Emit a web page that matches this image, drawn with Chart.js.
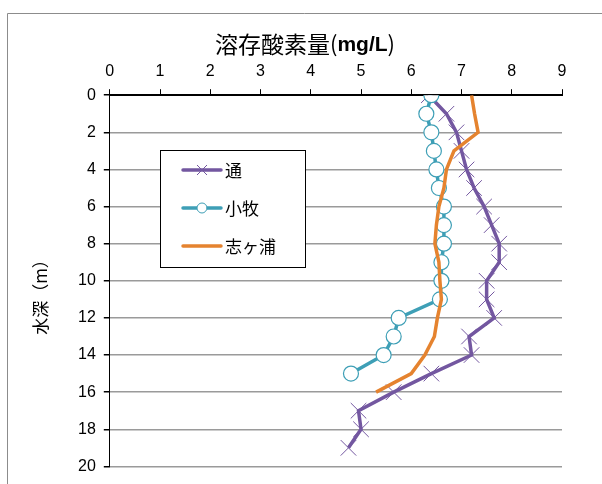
<!DOCTYPE html>
<html>
<head>
<meta charset="utf-8">
<script src="https://cdn.jsdelivr.net/npm/chart.js@4"></script>
<style>
  html, body { margin: 0; padding: 0; background: #fff; }
  #wrap { width: 602px; height: 484px; }
</style>
</head>
<body>
<div id="wrap"><canvas id="chartDo" width="602" height="484"></canvas></div>
<script>
// depth (m) for each station
const depthTori = [0, 1, 2, 3, 4, 5, 6, 7, 8, 9, 10, 11, 12, 13, 14, 15, 16, 17, 18, 19];
const depthKomaki = [0, 1, 2, 3, 4, 5, 6, 7, 8, 9, 10, 11, 12, 13, 14, 15];
const depthShigaura = [0, 1, 2, 3, 4, 5, 6, 7, 8, 9, 10, 11, 12, 13, 14, 15, 16];

// dissolved oxygen (mg/L)
const doTori = [6.35, 6.7, 6.9, 7.0, 7.1, 7.25, 7.45, 7.6, 7.75, 7.75, 7.5, 7.5, 7.65, 7.15, 7.2, 6.4, 5.65, 4.95, 5.0, 4.75];
const doKomaki = [6.4, 6.3, 6.4, 6.45, 6.5, 6.55, 6.65, 6.65, 6.65, 6.6, 6.6, 6.57, 5.75, 5.65, 5.45, 4.8];
const doShigaura = [7.2, 7.26, 7.33, 6.85, 6.7, 6.65, 6.55, 6.5, 6.47, 6.55, 6.57, 6.6, 6.52, 6.46, 6.27, 6.0, 5.3];

const seriesNames = ['通', '小牧', '志ヶ浦'];
const xTicks = [0, 1, 2, 3, 4, 5, 6, 7, 8, 9];
const yTicks = [0, 2, 4, 6, 8, 10, 12, 14, 16, 18, 20];

const PURPLE = '#7357A0';
const TEAL = '#3E9FB6';
const ORANGE = '#E5832F';
const CJK = '"Noto Sans CJK JP", "Noto Sans", sans-serif';
const LATIN = '"Liberation Sans", "DejaVu Sans", sans-serif';

function toPoints(xs, ys) {
  return xs.map((v, i) => ({ x: v, y: ys[i] }));
}

// outer frame of the original sheet (top and left edges only)
const framePlugin = {
  id: 'frame',
  beforeDraw(chart) {
    const ctx = chart.ctx;
    ctx.save();
    ctx.strokeStyle = '#8c8c8c';
    ctx.lineWidth = 1;
    ctx.beginPath();
    ctx.moveTo(7.5, 484);
    ctx.lineTo(7.5, 13.5);
    ctx.lineTo(602, 13.5);
    ctx.stroke();
    ctx.restore();
  },
};

// axis titles: mixed CJK + bold latin on top, rotated one at left
const titlePlugin = {
  id: 'axisTitles',
  afterDraw(chart) {
    const ctx = chart.ctx;
    ctx.save();
    ctx.fillStyle = '#000';
    ctx.textBaseline = 'middle';
    ctx.textAlign = 'left';
    const parts = [
      ['溶存酸素量', '23px ' + CJK, 0],
      ['(', '22px ' + CJK, 0],
      ['mg/L', 'bold 21px ' + LATIN, 1],
      [')', '22px ' + CJK, 0],
    ];
    let total = 0;
    parts.forEach(p => { ctx.font = p[1]; total += ctx.measureText(p[0]).width; });
    let x = 305 - total / 2;
    parts.forEach(p => {
      ctx.font = p[1];
      ctx.fillText(p[0], x, 44 + p[2]);
      x += ctx.measureText(p[0]).width;
    });

    ctx.translate(41, 293);
    ctx.rotate(-Math.PI / 2);
    ctx.textAlign = 'center';
    ctx.font = '17px ' + CJK;
    ctx.fillText('水深（m）', 0, 0);
    ctx.restore();
  },
};

// legend box sitting inside the plot area
const legendPlugin = {
  id: 'boxLegend',
  afterDraw(chart) {
    const ctx = chart.ctx;
    const bx = 160, by = 150, bw = 145, bh = 117;
    ctx.save();
    ctx.fillStyle = '#fff';
    ctx.fillRect(bx, by, bw, bh);
    ctx.strokeStyle = '#000';
    ctx.lineWidth = 1;
    ctx.strokeRect(bx + 0.5, by + 0.5, bw, bh);
    const rows = [170, 208, 246];
    const colors = [PURPLE, TEAL, ORANGE];
    rows.forEach((yy, i) => {
      ctx.strokeStyle = colors[i];
      ctx.lineWidth = 3.5;
      ctx.lineCap = 'round';
      ctx.beginPath();
      ctx.moveTo(183, yy);
      ctx.lineTo(221, yy);
      ctx.stroke();
      if (i === 0) {
        ctx.lineWidth = 1;
        ctx.lineCap = 'butt';
        ctx.beginPath();
        ctx.moveTo(197, yy - 5); ctx.lineTo(207, yy + 5);
        ctx.moveTo(207, yy - 5); ctx.lineTo(197, yy + 5);
        ctx.stroke();
      } else if (i === 1) {
        ctx.fillStyle = '#fff';
        ctx.lineWidth = 1;
        ctx.beginPath();
        ctx.arc(202, yy, 5, 0, Math.PI * 2);
        ctx.fill();
        ctx.stroke();
      }
      ctx.fillStyle = '#000';
      ctx.font = '17px ' + CJK;
      ctx.textBaseline = 'middle';
      ctx.textAlign = 'left';
      ctx.fillText(seriesNames[i], 225, yy + 1);
    });
    ctx.restore();
  },
};

const ctx = document.getElementById('chartDo').getContext('2d');
new Chart(ctx, {
  type: 'scatter',
  data: {
    datasets: [
      {
        label: seriesNames[0],
        data: toPoints(doTori, depthTori),
        showLine: true,
        borderColor: PURPLE,
        borderWidth: 3.5,
        pointStyle: 'cross',
        rotation: 45,
        pointRadius: 11,
        pointBorderWidth: 1,
        pointBorderColor: PURPLE,
        pointBackgroundColor: PURPLE,
        order: 3,
      },
      {
        label: seriesNames[1],
        data: toPoints(doKomaki, depthKomaki),
        showLine: true,
        borderColor: TEAL,
        borderWidth: 3.5,
        pointStyle: 'circle',
        pointRadius: 7.5,
        pointBorderWidth: 1.2,
        pointBorderColor: TEAL,
        pointBackgroundColor: '#fff',
        order: 2,
      },
      {
        label: seriesNames[2],
        data: toPoints(doShigaura, depthShigaura),
        showLine: true,
        borderColor: ORANGE,
        borderWidth: 3.5,
        pointRadius: 0,
        order: 1,
      },
    ],
  },
  plugins: [framePlugin, titlePlugin, legendPlugin],
  options: {
    responsive: false,
    animation: false,
    layout: { padding: { left: 70, right: 40, top: 54, bottom: 8 } },
    plugins: {
      legend: { display: false },
      tooltip: { enabled: false },
    },
    scales: {
      x: {
        type: 'linear',
        position: 'top',
        min: 0,
        max: 9,
        afterBuildTicks: (axis) => { axis.ticks = xTicks.map(v => ({ value: v })); },
        grid: {
          display: true,
          drawOnChartArea: false,
          drawTicks: true,
          tickLength: 6,
          color: '#000',
        },
        border: { display: true, color: '#000', width: 1 },
        ticks: {
          color: '#000',
          font: { family: LATIN, size: 16 },
          padding: 8,
        },
      },
      y: {
        type: 'linear',
        reverse: true,
        min: 0,
        max: 20,
        afterBuildTicks: (axis) => { axis.ticks = yTicks.map(v => ({ value: v })); },
        grid: {
          color: (c) => (c.tick && c.tick.value === 0 ? '#000' : '#9a9a9a'),
          lineWidth: 1.5,
          tickLength: 6,
          tickColor: '#000',
        },
        border: { display: true, color: '#000', width: 1 },
        ticks: {
          color: '#000',
          font: { family: LATIN, size: 16 },
          padding: 8,
        },
      },
    },
  },
});
</script>
</body>
</html>
